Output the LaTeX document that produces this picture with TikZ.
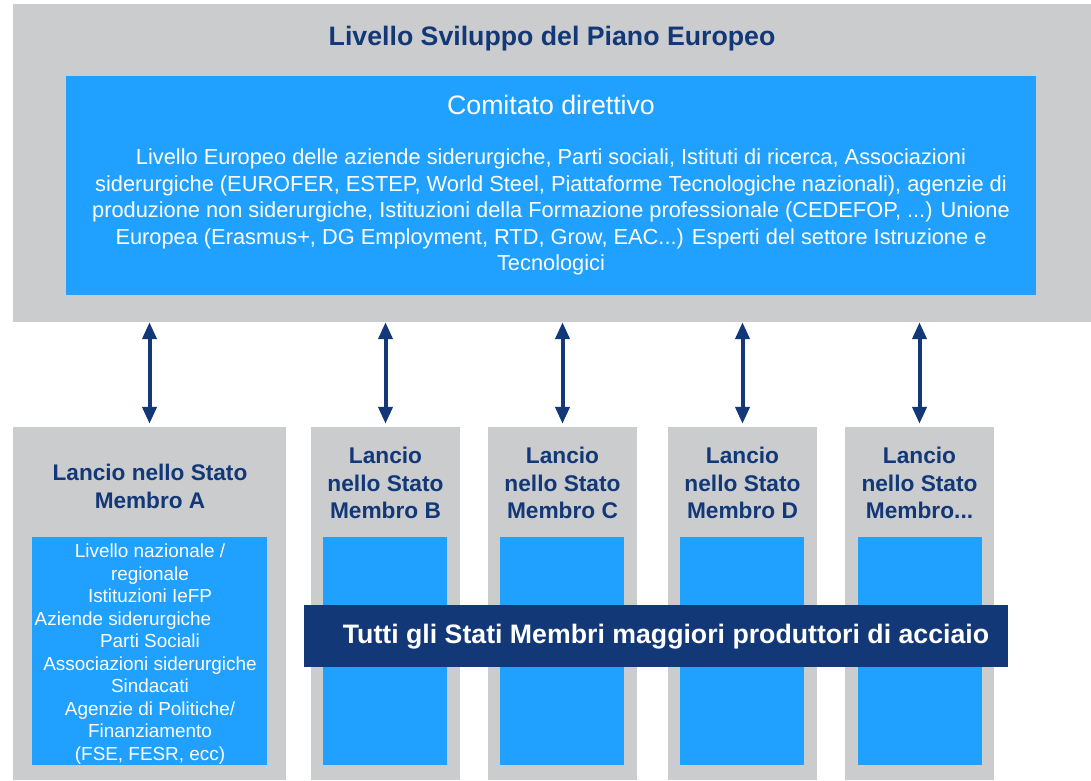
\documentclass[tikz,border=0pt]{standalone}
\usepackage{fontspec}
\setmainfont{Liberation Sans}
\usepackage{xcolor}
\usepackage{tikz}
\usetikzlibrary{arrows.meta, calc}

\definecolor{panelgray}{HTML}{CBCCCE}
\definecolor{skyblue}{HTML}{20A0FF}
\definecolor{navy}{HTML}{133877}

\begin{document}
\begin{tikzpicture}[
    x=1pt, y=-1pt,
    % --- Box styles ---
    panel/.style={fill=panelgray, draw=none, inner sep=0pt},
    inner/.style={fill=skyblue, draw=none, inner sep=0pt},
    % --- Text styles ---
    head/.style={font=\fontsize{22.7}{27.5}\selectfont\bfseries, text=navy,
        align=center, inner sep=0pt},
    bodytxt/.style={text=white, align=center, inner sep=0pt},
    % --- Arrow styles ---
    link/.style={{Triangle[length=17pt,width=14pt]}-{Triangle[length=17pt,width=14pt]},
        line width=4pt, color=navy},
]
\useasboundingbox (0,0) rectangle (1091,780);

% =============================================
%  TOP: European level
% =============================================
\node[panel, minimum width=1078pt, minimum height=318pt] (top) at (552,163) {};
\node[inner, minimum width=970pt, minimum height=219pt] (board) at (551,185.5) {};

\node[head, font=\fontsize{26.7}{30}\selectfont\bfseries] (toptitle) at (552,39)
    {Livello Sviluppo del Piano Europeo};
\node[bodytxt, font=\fontsize{26.7}{30}\selectfont] (boardtitle) at (551,105)
    {Comitato direttivo};
\node[bodytxt, font=\fontsize{21.8}{26.5}\selectfont] (boardtxt) at (551,212)
    {Livello Europeo delle aziende siderurgiche, Parti sociali, Istituti di ricerca, Associazioni\\
     siderurgiche (EUROFER, ESTEP, World Steel, Piattaforme Tecnologiche nazionali), agenzie di\\
     produzione non siderurgiche, Istituzioni della Formazione professionale (CEDEFOP, ...) Unione\\
     Europea (Erasmus+, DG Employment, RTD, Grow, EAC...) Esperti del settore Istruzione e\\
     Tecnologici};

% =============================================
%  BOTTOM: Member states
% =============================================
\node[panel, minimum width=273pt, minimum height=353pt] (stA) at (149.5,603.5) {};
\node[inner, minimum width=235pt, minimum height=228pt] (inA) at (149.5,651) {};
\node[head, font=\fontsize{22.6}{28}\selectfont\bfseries] (hdA) at (150,486)
    {Lancio nello Stato\\Membro A};
\node[bodytxt, font=\fontsize{18.9}{22.5}\selectfont] (txtA) at (150,654)
    {Livello nazionale /\\
     regionale\\
     Istituzioni IeFP\\
     Aziende siderurgiche\rule{54pt}{0pt}\\
     Parti Sociali\\
     Associazioni siderurgiche\\
     Sindacati\\
     Agenzie di Politiche/\\
     Finanziamento\\
     (FSE, FESR, ecc)};

\node[panel, minimum width=149pt, minimum height=353pt] (stB) at (385.5,603.5) {};
\node[inner, minimum width=124pt, minimum height=228pt] (inB) at (385,651) {};
\node[head] (hdB) at (385.5,483) {Lancio\\nello Stato\\Membro B};

\node[panel, minimum width=149pt, minimum height=353pt] (stC) at (562.5,603.5) {};
\node[inner, minimum width=124pt, minimum height=228pt] (inC) at (562,651) {};
\node[head] (hdC) at (562.5,483) {Lancio\\nello Stato\\Membro C};

\node[panel, minimum width=149pt, minimum height=353pt] (stD) at (742.5,603.5) {};
\node[inner, minimum width=124pt, minimum height=228pt] (inD) at (742,651) {};
\node[head] (hdD) at (742.5,483) {Lancio\\nello Stato\\Membro D};

\node[panel, minimum width=149pt, minimum height=353pt] (stE) at (919.5,603.5) {};
\node[inner, minimum width=124pt, minimum height=228pt] (inE) at (920,651) {};
\node[head] (hdE) at (919.5,483) {Lancio\\nello Stato\\Membro...};

% Banner across the member states
\node[fill=navy, minimum width=704pt, minimum height=62pt, inner sep=0pt] (banner) at (656,636) {};
\node[text=white, font=\fontsize{26.7}{30}\selectfont\bfseries, inner sep=0pt] (bannertxt) at (666,637)
    {Tutti gli Stati Membri maggiori produttori di acciaio};

% =============================================
%  Connections
% =============================================
\draw[link] (top.south -| stA.north) -- ([yshift=3pt]stA.north);
\draw[link] (top.south -| stB.north) -- ([yshift=3pt]stB.north);
\draw[link] (top.south -| stC.north) -- ([yshift=3pt]stC.north);
\draw[link] (top.south -| stD.north) -- ([yshift=3pt]stD.north);
\draw[link] (top.south -| stE.north) -- ([yshift=3pt]stE.north);

\end{tikzpicture}
\end{document}
